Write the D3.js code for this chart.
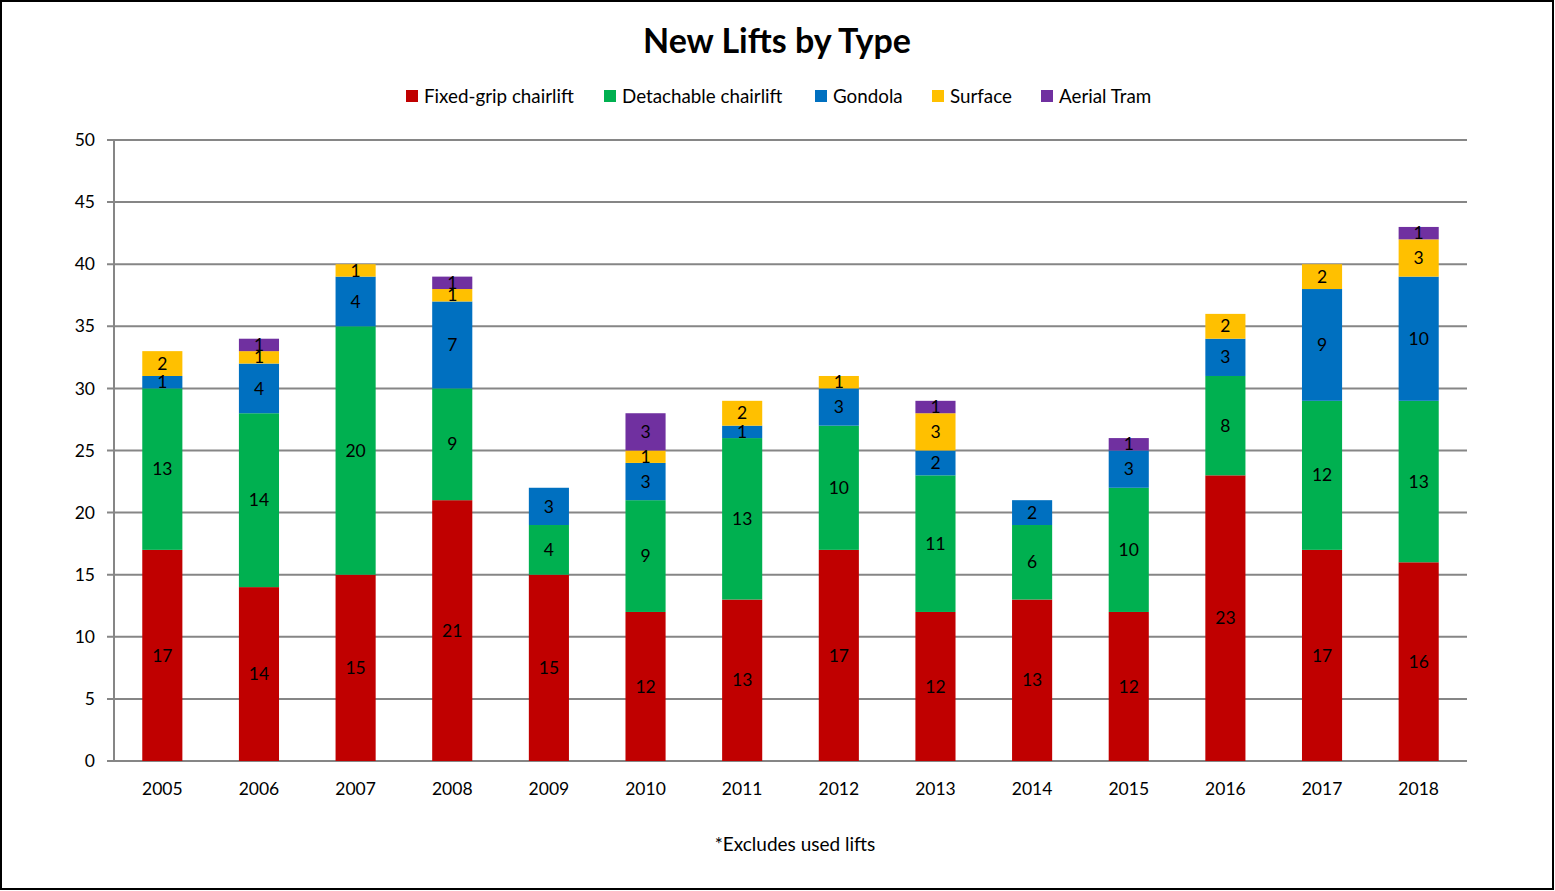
<!DOCTYPE html>
<html>
<head>
<meta charset="utf-8">
<script src="https://cdn.jsdelivr.net/npm/d3@7"></script>
<style>
  html, body { margin: 0; padding: 0; background: #fff; }
  svg { display: block; font-family: Lato, "Open Sans", sans-serif; }
</style>
</head>
<body>
<svg id="chart" width="1555" height="891"></svg>
<script>
const years = ["2005","2006","2007","2008","2009","2010","2011","2012","2013","2014","2015","2016","2017","2018"];
const seriesNames = ["Fixed-grip chairlift","Detachable chairlift","Gondola","Surface","Aerial Tram"];
const fixedGrip   = [17,14,15,21,15,12,13,17,12,13,12,23,17,16];
const detachable  = [13,14,20, 9, 4, 9,13,10,11, 6,10, 8,12,13];
const gondola     = [ 1, 4, 4, 7, 3, 3, 1, 3, 2, 2, 3, 3, 9,10];
const surface     = [ 2, 1, 1, 1, 0, 1, 2, 1, 3, 0, 0, 2, 2, 3];
const aerialTram  = [ 0, 1, 0, 1, 0, 3, 0, 0, 1, 0, 1, 0, 0, 1];
const yTicks = [0,5,10,15,20,25,30,35,40,45,50];
const colors = ["#C00000","#00B050","#0070C0","#FFC000","#7030A0"];
const titleText = "New Lifts by Type";
const footText = "*Excludes used lifts";

(function(){
const svg = d3.select("#chart");
const W = 1555, H = 891;

svg.append("rect").attr("x",1).attr("y",1).attr("width",W-3).attr("height",H-3)
  .attr("fill","#fff").attr("stroke","#000").attr("stroke-width",2);

const pL = 114, pR = 1467, pT = 140, pB = 761;
const x = d3.scaleBand().domain(years).range([pL,pR]).paddingInner(0.585).paddingOuter(0.2925);
const y = d3.scaleLinear().domain([0,50]).range([pB,pT]);

svg.append("g").selectAll("line").data(yTicks).join("line")
  .attr("x1",pL-7).attr("x2",pR).attr("y1",d=>y(d)).attr("y2",d=>y(d))
  .attr("stroke","#868686").attr("stroke-width",2);
svg.append("line").attr("x1",pL).attr("x2",pL).attr("y1",pT).attr("y2",pB)
  .attr("stroke","#868686").attr("stroke-width",2);

svg.append("g").selectAll("text").data(yTicks).join("text")
  .attr("x",95).attr("y",d=>y(d)).attr("dy","0.35em").attr("text-anchor","end")
  .attr("font-size",17.5).attr("fill","#000").text(d=>d);

svg.append("g").selectAll("text").data(years).join("text")
  .attr("x",d=>x(d)+x.bandwidth()/2).attr("y",789).attr("dy","0.35em").attr("text-anchor","middle")
  .attr("font-size",17.5).attr("fill","#000").text(d=>d);

const table = years.map((yr,i)=>({year:yr, s0:fixedGrip[i], s1:detachable[i], s2:gondola[i], s3:surface[i], s4:aerialTram[i]}));
const keys = ["s0","s1","s2","s3","s4"];
const stacked = d3.stack().keys(keys)(table);

const layers = svg.append("g").selectAll("g").data(stacked).join("g")
  .attr("fill",(d,i)=>colors[i]);
layers.selectAll("rect").data(d=>d.filter(p=>p[1]-p[0]>0)).join("rect")
  .attr("x",d=>x(d.data.year)).attr("width",x.bandwidth())
  .attr("y",d=>y(d[1])).attr("height",d=>y(d[0])-y(d[1]));

const lbl = svg.append("g");
stacked.forEach(layer=>{
  layer.forEach(p=>{
    const v = p[1]-p[0];
    if (v>0) {
      lbl.append("text")
        .attr("x",x(p.data.year)+x.bandwidth()/2)
        .attr("y",(y(p[0])+y(p[1]))/2).attr("dy","0.35em")
        .attr("text-anchor","middle").attr("font-size",17.5).attr("fill","#000").text(v);
    }
  });
});

svg.append("text").attr("x",777).attr("y",41).attr("dy","0.35em").attr("text-anchor","middle")
  .attr("font-size",34).attr("font-weight","bold").attr("fill","#000").text(titleText);

const legendX = [406,604,815,932,1041];
const leg = svg.append("g").selectAll("g").data(seriesNames).join("g")
  .attr("transform",(d,i)=>`translate(${legendX[i]},96)`);
leg.append("rect").attr("x",0).attr("y",-6).attr("width",12).attr("height",12).attr("fill",(d,i)=>colors[i]);
leg.append("text").attr("x",18).attr("y",0).attr("dy","0.35em").attr("font-size",18.8).attr("fill","#000").text(d=>d);

svg.append("text").attr("x",795).attr("y",844).attr("dy","0.35em").attr("text-anchor","middle")
  .attr("font-size",19).attr("fill","#000").text(footText);
})();
</script>
</body>
</html>
